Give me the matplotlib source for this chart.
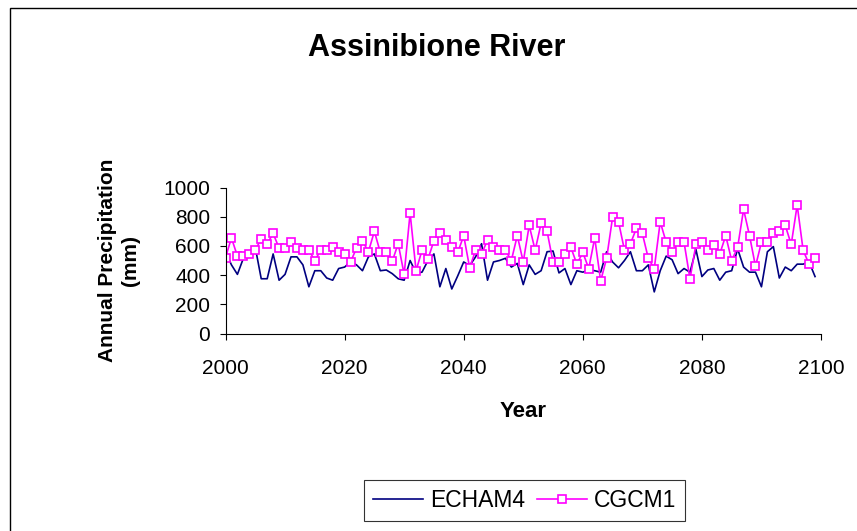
import matplotlib
matplotlib.use("Agg")
import matplotlib.pyplot as plt
from matplotlib.patches import Rectangle

plt.rcParams['font.family'] = ['Liberation Sans', 'DejaVu Sans']

years = list(range(2000, 2100))

# annual precipitation (mm), ECHAM4 scenario
echam4 = [560, 470, 405, 515, 560, 590, 375, 375, 545, 365,
          405, 525, 525, 470, 320, 430, 430, 380, 365, 445,
          455, 490, 470, 430, 525, 545, 430, 435, 410, 375,
          365, 500, 415, 420, 500, 545, 320, 445, 305, 395,
          490, 465, 525, 615, 365, 490, 500, 515, 455, 480,
          335, 470, 405, 430, 560, 565, 415, 445, 335, 430,
          420, 435, 430, 420, 560, 490, 450, 500, 560, 430,
          430, 470, 285, 430, 530, 505, 410, 445, 420, 575,
          390, 435, 445, 365, 420, 430, 580, 455, 420, 420,
          320, 560, 595, 380, 455, 430, 475, 475, 490, 390]

# annual precipitation (mm), CGCM1 scenario
cgcm1 = [520, 655, 530, 530, 545, 570, 650, 615, 685, 585,
         585, 630, 585, 570, 570, 500, 570, 570, 590, 555,
         545, 490, 585, 635, 560, 700, 555, 555, 495, 615,
         405, 825, 430, 570, 510, 635, 685, 640, 595, 555,
         670, 450, 570, 545, 640, 590, 570, 570, 500, 670,
         490, 740, 570, 755, 700, 490, 490, 545, 590, 475,
         555, 445, 655, 360, 515, 795, 765, 570, 615, 720,
         685, 515, 445, 765, 625, 555, 625, 625, 375, 610,
         625, 570, 605, 545, 670, 500, 590, 850, 670, 460,
         625, 625, 685, 700, 740, 610, 880, 570, 475, 515]

W, H = 857, 531
fig = plt.figure(figsize=(W / 100, H / 100), dpi=100)
fig.patches.append(Rectangle((10 / W, -0.1), 1.2, 1 - 8 / H + 0.1,
                             transform=fig.transFigure, fill=False,
                             edgecolor='black', linewidth=1.0))

ax = fig.add_axes([225.5 / W, 1 - 333.5 / H, (821 - 225.5) / W, (333.5 - 187.5) / H])
ax.plot(years, echam4, color='#000080', linewidth=1.2, label='ECHAM4')
ax.plot(years, cgcm1, color='#FF00FF', linewidth=1.2, marker='s', markersize=6,
        markerfacecolor='white', markeredgecolor='#FF00FF', markeredgewidth=1.2,
        label='CGCM1')

ax.set_xlim(2000, 2100)
ax.set_ylim(0, 1000)
ax.set_xticks(range(2000, 2101, 20))
ax.set_yticks(range(0, 1001, 200))
ax.tick_params(direction='out', length=4, width=0.8, labelsize=15, colors='black')
ax.tick_params(axis='y', pad=7)
ax.tick_params(axis='x', pad=14)
for side in ('top', 'right'):
    ax.spines[side].set_visible(False)
for side in ('left', 'bottom'):
    ax.spines[side].set_linewidth(0.8)

ax.set_ylabel('Annual Precipitation\n(mm)', fontsize=15, fontweight='bold', labelpad=17,
              linespacing=1.25)
ax.set_xlabel('Year', fontsize=16, fontweight='bold', labelpad=17)

fig.text(437 / W, 1 - 48 / H, 'Assinibione River', fontsize=22, fontweight='bold',
         ha='center', va='center')

leg = fig.legend(loc='center', bbox_to_anchor=(524.5 / W, 1 - 500.5 / H), ncol=2,
                 fontsize=16.5, frameon=True, fancybox=False, edgecolor='black',
                 handlelength=2.2, handletextpad=0.3, columnspacing=0.5,
                 borderpad=0.4)
leg.get_frame().set_linewidth(0.8)

fig.savefig('out.png', dpi=100)
